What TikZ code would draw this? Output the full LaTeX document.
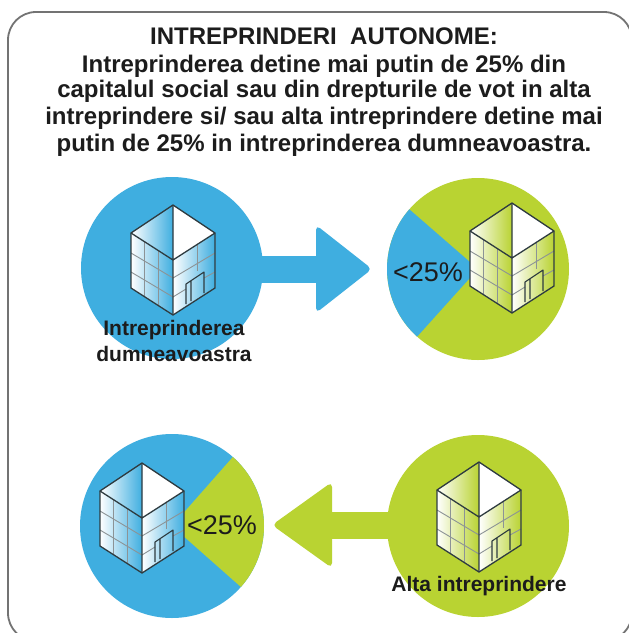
\documentclass[tikz,border=0pt]{standalone}
\usepackage{fontspec}
\setmainfont{Liberation Sans}
\definecolor{cblue}{HTML}{3FAEE0}
\definecolor{cgreen}{HTML}{B9D332}
\definecolor{ink}{HTML}{1C1C1C}
\definecolor{edge}{HTML}{2E3B40}
\tikzset{
  titletxt/.style={anchor=base,font=\fontsize{24}{24}\selectfont\bfseries,text=ink,inner sep=0pt},
  labeltxt/.style={anchor=base,font=\fontsize{21}{21}\selectfont\bfseries,text=ink,inner sep=0pt},
  pct/.style={anchor=base,font=\fontsize{27}{27}\selectfont,text=ink,inner sep=0pt},
  outerline/.style={draw=black!55,line width=1.8pt},
  boldedge/.style={draw=edge,line width=1.3pt,line join=round},
  thinedge/.style={draw=edge!55,line width=0.9pt},
  dooredge/.style={draw=edge,line width=1.1pt,line join=round},
  arrowhead/.style={rounded corners=5pt},
}
\newcommand{\bldg}[3]{%
\begin{scope}[shift={(#1,#2)}]
  \fill[white] (0,-55) -- (-42,-27) -- (-42,28) -- (0,55) -- (42,28) -- (42,-27) -- cycle;
  \shade[left color=white,right color=#3] (0,-55) -- (-42,-27) -- (0,0) -- cycle;
  \shade[left color=white,middle color=white,right color=#3] (-42,-27) -- (0,0) -- (0,55) -- (-42,28) -- cycle;
  \shade[left color=white,middle color=white,right color=#3] (0,0) -- (42,-27) -- (42,28) -- (0,55) -- cycle;
  \draw[thinedge] (-29,-18) -- (-29,36) (-15,-9) -- (-15,45) (24,-15) -- (24,11);
  \draw[thinedge] (-42,-7) -- (0,18) -- (42,-7) (-42,12) -- (0,37) -- (13,29) (31,18) -- (42,12);
  \draw[dooredge] (13,44) -- (13,24) -- (31,12) -- (31,33) (18,41) -- (18,21);
  \draw[boldedge] (0,-55) -- (-42,-27) -- (-42,28) -- (0,55) -- (42,28) -- (42,-27) -- cycle;
  \draw[boldedge] (-42,-27) -- (0,0) -- (42,-27) (0,-55) -- (0,55);
\end{scope}}
\begin{document}
\begin{tikzpicture}[x=1pt,y=-1pt]
\useasboundingbox (0,0) rectangle (629,633);
\fill[white] (0,0) rectangle (629,633);
\begin{scope}
  \clip (0,0) rectangle (629,633);
  \draw[outerline,rounded corners=28pt] (8,12) rectangle (632,641);
\end{scope}
% title
\node[titletxt] (t1) at (324,44) {INTREPRINDERI\ \ AUTONOME:};
\node[titletxt] (t2) at (324,72) {Intreprinderea detine mai putin de 25\% din};
\node[titletxt] (t3) at (324,97) {capitalul social sau din drepturile de vot in alta};
\node[titletxt] (t4) at (324,124) {intreprindere si/ sau alta intreprindere detine mai};
\node[titletxt] (t5) at (324,151) {putin de 25\% in intreprinderea dumneavoastra.};
% top arrow
\fill[cblue] (250,256) rectangle (320,283);
\fill[cblue,arrowhead] (316,269) -- (316,225) -- (372,269) -- (316,313) -- cycle;
% bottom arrow
\fill[cgreen] (328,512) rectangle (400,539);
\fill[cgreen,arrowhead] (332,525) -- (332,482) -- (272,525) -- (332,568) -- cycle;
% circles
\fill[cblue] (172,268) circle[radius=91];
\fill[cgreen] (478,269) circle[radius=91];
\fill[cblue] (478,269) -- +(132:91) arc[start angle=132,end angle=221,radius=91] -- cycle;
\fill[cblue] (172,526) circle[radius=92];
\fill[cgreen] (172,526) -- +(-48.6:92) arc[start angle=-48.6,end angle=41.5,radius=92] -- cycle;
\fill[cgreen] (478,526) circle[radius=91];
% buildings
\bldg{173}{260}{cblue}
\bldg{512}{258}{cgreen}
\bldg{142}{518}{cblue}
\bldg{479}{517}{cgreen}
% labels
\node[labeltxt] (a1) at (174,335) {Intreprinderea};
\node[labeltxt] (a2) at (174,361) {dumneavoastra};
\node[labeltxt] (b1) at (479,591) {Alta intreprindere};
\node[pct] (p1) at (428,281) {<25\%};
\node[pct] (p2) at (222,534) {<25\%};
\end{tikzpicture}
\end{document}
